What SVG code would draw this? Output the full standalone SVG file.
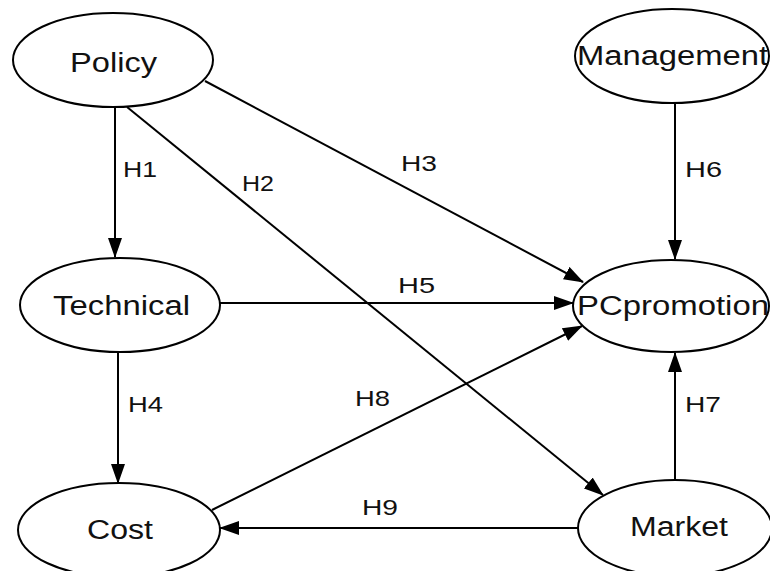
<svg xmlns="http://www.w3.org/2000/svg" width="770" height="571" viewBox="0 0 770 571">
<style>
.node ellipse{fill:#fff;stroke:#000;stroke-width:2}
.node text{font-family:"Liberation Sans",Arial,sans-serif;font-size:27px;fill:#111}
.conn line{stroke:#000;stroke-width:2;marker-end:url(#ah)}
.lbl{font-family:"Liberation Sans",Arial,sans-serif;font-size:22px;fill:#111}
</style>
<defs>
<marker id="ah" markerUnits="userSpaceOnUse" markerWidth="20" markerHeight="14" refX="19" refY="7" orient="auto">
<path d="M0,0 L20,7 L0,14 z" fill="#000"/>
</marker>
</defs>
<rect width="770" height="571" fill="#fff"/>
<g id="connectors" class="conn">
<line x1="115" y1="107" x2="115" y2="257"/>
<line x1="127" y1="107" x2="603" y2="495"/>
<line x1="205" y1="81" x2="583" y2="282"/>
<line x1="220" y1="303" x2="573" y2="303"/>
<line x1="675" y1="103" x2="675" y2="259"/>
<line x1="118" y1="352" x2="118" y2="483"/>
<line x1="212" y1="510" x2="582" y2="326"/>
<line x1="675" y1="480" x2="675" y2="353"/>
<line x1="578" y1="528" x2="220" y2="528"/>
</g>
<g id="labels" class="lbl">
<text x="123" y="177" textLength="34" lengthAdjust="spacingAndGlyphs">H1</text>
<text x="242" y="191" textLength="32" lengthAdjust="spacingAndGlyphs">H2</text>
<text x="401" y="171" textLength="36" lengthAdjust="spacingAndGlyphs">H3</text>
<text x="685" y="177" textLength="37" lengthAdjust="spacingAndGlyphs">H6</text>
<text x="398" y="293" textLength="37" lengthAdjust="spacingAndGlyphs">H5</text>
<text x="128" y="412" textLength="35" lengthAdjust="spacingAndGlyphs">H4</text>
<text x="355" y="406" textLength="35" lengthAdjust="spacingAndGlyphs">H8</text>
<text x="685" y="412" textLength="36" lengthAdjust="spacingAndGlyphs">H7</text>
<text x="362" y="515" textLength="36" lengthAdjust="spacingAndGlyphs">H9</text>
</g>
<g id="policy" class="node"><ellipse cx="113" cy="60" rx="100" ry="47"/><text x="70" y="72" textLength="87" lengthAdjust="spacingAndGlyphs">Policy</text></g>
<g id="management" class="node"><ellipse cx="672" cy="56" rx="97" ry="47"/><text x="577" y="65" textLength="191" lengthAdjust="spacingAndGlyphs">Management</text></g>
<g id="technical" class="node"><ellipse cx="120" cy="305" rx="100" ry="47"/><text x="53" y="315" textLength="137" lengthAdjust="spacingAndGlyphs">Technical</text></g>
<g id="pcpromotion" class="node"><ellipse cx="671" cy="306" rx="98" ry="46"/><text x="577" y="315" textLength="192" lengthAdjust="spacingAndGlyphs">PCpromotion</text></g>
<g id="cost" class="node"><ellipse cx="119" cy="530" rx="101" ry="47"/><text x="87" y="539" textLength="66" lengthAdjust="spacingAndGlyphs">Cost</text></g>
<g id="market" class="node"><ellipse cx="675" cy="528" rx="97" ry="48"/><text x="630" y="536" textLength="98" lengthAdjust="spacingAndGlyphs">Market</text></g>
</svg>
